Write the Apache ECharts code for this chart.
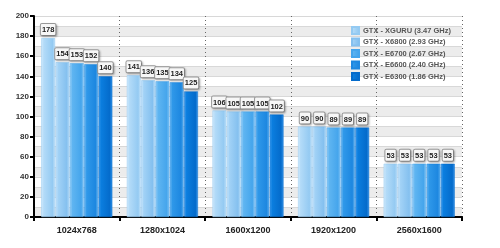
<!DOCTYPE html>
<html><head><meta charset="utf-8">
<script src="https://cdn.jsdelivr.net/npm/echarts@6/dist/echarts.min.js"></script>
<style>html,body{margin:0;padding:0;background:#fff}#c{width:500px;height:248px}</style>
</head><body><div id="c"></div>
<script>
const categories = ['1024x768','1280x1024','1600x1200','1920x1200','2560x1600'];
const seriesNames = ['GTX - XGURU (3.47 GHz)','GTX - X6800 (2.93 GHz)','GTX - E6700 (2.67 GHz)','GTX - E6600 (2.40 GHz)','GTX - E6300 (1.86 GHz)'];
const xguru = [178,141,106,90,53];
const x6800 = [154,136,105,90,53];
const e6700 = [153,135,105,89,53];
const e6600 = [152,134,105,89,53];
const e6300 = [140,125,102,89,53];
const yTicks = [0,20,40,60,80,100,120,140,160,180,200];
const values = [xguru,x6800,e6700,e6600,e6300];
const palettes = [
  ['#d6ecfc','#b3dbf8','#94caf2','#c4e3fa'],
  ['#cfe8fb','#a2d2f6','#84c0ef','#bfe0f9'],
  ['#9fd2f8','#5fb5f1','#45a5ec','#8cc9f5'],
  ['#74bdf3','#2f98e9','#1d87e0','#66b5f1'],
  ['#3f9ef0','#0b7edf','#046bcb','#3a98ec']
];
const chart = echarts.init(document.getElementById('c'), null, {renderer:'canvas'});
chart.setOption({
  animation:false,
  backgroundColor:'#fff',
  grid:{left:34,right:38,top:16,bottom:31},
  legend:{
    orient:'vertical', left:346, top:21, itemWidth:7, itemHeight:7, itemGap:2.5,
    icon:'rect',
    textStyle:{fontSize:7.5, fontWeight:'bold', color:'#555', fontFamily:'Liberation Sans, Arial', padding:[0,0,0,-1]},
    data:seriesNames
  },
  xAxis:{
    type:'category', data:categories,
    axisLine:{lineStyle:{color:'#000',width:2}},
    axisTick:{show:true,length:4,lineStyle:{color:'#000',width:2}},
    axisLabel:{fontSize:9,fontWeight:'bold',color:'#222',margin:9,fontFamily:'Liberation Sans, Arial'},
    splitLine:{show:true,lineStyle:{type:[1,3],color:'#666',width:1}}
  },
  yAxis:[{
    type:'value', min:0, max:200, interval:20,
    axisLine:{show:true,lineStyle:{color:'#000',width:2}},
    axisTick:{show:true,length:4,lineStyle:{color:'#000',width:2}},
    axisLabel:{fontSize:8,fontWeight:'bold',color:'#333',margin:5,fontFamily:'Liberation Sans, Arial',
      formatter:v=>yTicks.includes(v)?String(v):''},
    splitLine:{show:false}
  },{
    type:'value', min:0, max:200, interval:10, position:'left',
    axisLine:{show:false}, axisTick:{show:false}, axisLabel:{show:false},
    splitLine:{show:true,lineStyle:{color:'#d8d8d8',width:1}},
    splitArea:{show:true,areaStyle:{color:['#ececec','#ffffff']}}
  }],
  series: values.map((vals,i)=>({
    name:seriesNames[i], type:'bar', data:vals, yAxisIndex:0,
    barGap:'4%', barCategoryGap:'17%',
    itemStyle:{
      color:new echarts.graphic.LinearGradient(0,0,1,0,[
        {offset:0,color:palettes[i][0]},
        {offset:0.18,color:palettes[i][1]},
        {offset:0.82,color:palettes[i][2]},
        {offset:1,color:palettes[i][3]}
      ]),
      borderColor:palettes[i][2], borderWidth:0.5
    },
    label:{
      show:true, position:'top', distance:3,
      fontSize:7.5, fontWeight:'bold', color:'#222', fontFamily:'Liberation Sans, Arial',
      backgroundColor:'#f7f7f7', borderColor:'#9a9a9a', borderWidth:1, borderRadius:1,
      padding:[2,1,1,1], shadowColor:'rgba(0,0,0,0.25)', shadowBlur:2, shadowOffsetX:1, shadowOffsetY:1
    }
  }))
});
</script></body></html>
